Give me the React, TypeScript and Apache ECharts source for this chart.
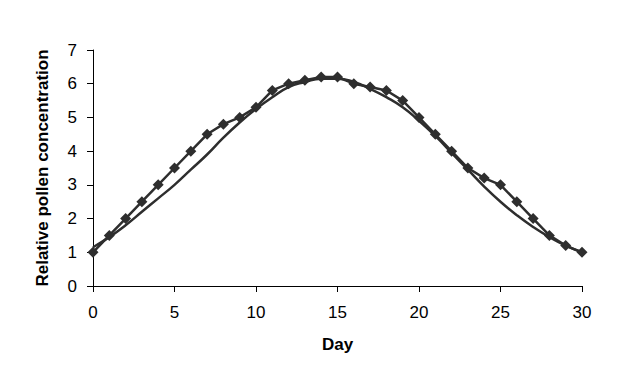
import React, { useEffect, useRef } from "react";
import * as echarts from "echarts";

const days = [0,1,2,3,4,5,6,7,8,9,10,11,12,13,14,15,16,17,18,19,20,21,22,23,24,25,26,27,28,29,30];
const observed = [1.0,1.5,2.0,2.5,3.0,3.5,4.0,4.5,4.8,5.0,5.3,5.8,6.0,6.1,6.2,6.2,6.0,5.9,5.8,5.5,5.0,4.5,4.0,3.5,3.2,3.0,2.5,2.0,1.5,1.2,1.0];
const model = [1.15,1.45,1.8,2.2,2.6,3.0,3.45,3.9,4.4,4.85,5.25,5.6,5.9,6.05,6.15,6.15,6.05,5.85,5.6,5.3,4.9,4.45,3.95,3.45,2.95,2.5,2.1,1.75,1.45,1.2,1.0];
const yTicks = [0,1,2,3,4,5,6,7];
const xTicks = [0,5,10,15,20,25,30];

export default function App() {
  const ref = useRef<HTMLDivElement>(null);
  useEffect(() => {
    if (!ref.current) return;
    const chart = echarts.init(ref.current, null, { renderer: "svg" });
    const font = "Liberation Sans, Arial, sans-serif";
    const col = "#2e2e2e";
    chart.setOption({
      animation: false,
      backgroundColor: "#ffffff",
      grid: { left: 93, top: 50, right: 37, bottom: 93, containLabel: false },
      xAxis: {
        type: "value",
        min: xTicks[0],
        max: xTicks[xTicks.length - 1],
        interval: 5,
        name: "Day",
        nameLocation: "middle",
        nameGap: 50,
        nameTextStyle: { fontFamily: font, fontSize: 17, fontWeight: "bold", color: "#000" },
        axisLine: { lineStyle: { color: "#000", width: 1 } },
        axisTick: { show: true, length: 6, lineStyle: { color: "#000" } },
        axisLabel: { fontFamily: font, fontSize: 17, color: "#000", margin: 18 },
        splitLine: { show: false },
      },
      yAxis: {
        type: "value",
        min: yTicks[0],
        max: yTicks[yTicks.length - 1],
        interval: 1,
        name: "Relative pollen concentration",
        nameLocation: "middle",
        nameGap: 42,
        nameTextStyle: { fontFamily: font, fontSize: 17, fontWeight: "bold", color: "#000" },
        axisLine: { show: true, lineStyle: { color: "#000", width: 1 } },
        axisTick: { show: true, length: 6, lineStyle: { color: "#000" } },
        axisLabel: { fontFamily: font, fontSize: 17, color: "#000", margin: 16 },
        splitLine: { show: false },
      },
      series: [
        {
          type: "line",
          data: days.map((d, i) => [d, model[i]]),
          smooth: 0.5,
          showSymbol: false,
          symbol: "none",
          lineStyle: { color: col, width: 2.5 },
        },
        {
          type: "line",
          data: days.map((d, i) => [d, observed[i]]),
          symbol: "diamond",
          symbolSize: 11,
          itemStyle: { color: col },
          lineStyle: { color: col, width: 2.5 },
        },
      ],
    });
    return () => chart.dispose();
  }, []);
  return (
    <div
      ref={ref}
      style={{ position: "fixed", left: 0, top: 0, width: 619, height: 379, background: "#fff" }}
    />
  );
}
